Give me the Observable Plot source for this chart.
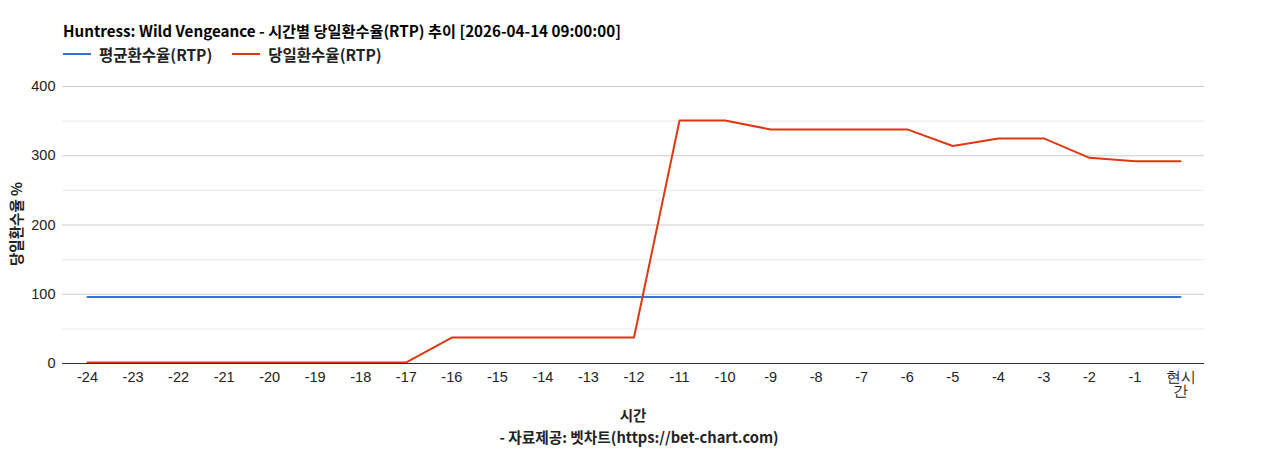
<!DOCTYPE html>
<html>
<head>
<meta charset="utf-8">
<script src="https://cdn.jsdelivr.net/npm/d3@7"></script>
<script src="https://cdn.jsdelivr.net/npm/@observablehq/plot@0.6"></script>
<style>
  html, body { margin: 0; padding: 0; background: #fff; }
  #wrap { position: relative; width: 1268px; height: 450px; font-family: "Noto Sans CJK KR", "Liberation Sans", sans-serif; }
  #title { position: absolute; left: 63px; top: 19px; font-size: 15.2px; font-weight: bold; color: #000; white-space: nowrap; }
  #legend { position: absolute; left: 63px; top: 43px; font-size: 15.5px; font-weight: bold; color: #222; display: flex; align-items: center; white-space: nowrap; }
  .sw { display: inline-block; width: 28px; height: 2px; margin-right: 8px; }
  .item { display: flex; align-items: center; margin-right: 20px; }
  #chart { position: absolute; left: 0; top: 70px; }
  #ylabel { position: absolute; left: 15px; top: 224px; transform: translate(-50%, -50%) rotate(-90deg); font-size: 14.5px; font-weight: bold; white-space: nowrap; color: #222; }
  #xlabel { position: absolute; left: 633px; top: 404px; transform: translateX(-50%); font-size: 14.5px; font-weight: bold; color: #222; white-space: nowrap; }
  #caption { position: absolute; left: 639px; top: 426px; transform: translateX(-50%); font-size: 14.7px; font-weight: bold; color: #222; white-space: nowrap; }
</style>
</head>
<body>
<div id="wrap">
  <div id="title">Huntress: Wild Vengeance - 시간별 당일환수율(RTP) 추이 [2026-04-14 09:00:00]</div>
  <div id="legend"></div>
  <div id="chart"></div>
  <div id="ylabel">당일환수율 %</div>
  <div id="xlabel">시간</div>
  <div id="caption">- 자료제공: 벳차트(https://bet-chart.com)</div>
</div>
<script>
const hours = ["-24","-23","-22","-21","-20","-19","-18","-17","-16","-15","-14","-13","-12","-11","-10","-9","-8","-7","-6","-5","-4","-3","-2","-1","현시간"];
const avgRtp = [96,96,96,96,96,96,96,96,96,96,96,96,96,96,96,96,96,96,96,96,96,96,96,96,96];
const dailyRtp = [1.5,1.5,1.5,1.5,1.5,1.5,1.5,1.5,37.5,37.5,37.5,37.5,37.5,351,351,338,338,338,338,314,325,325,297,292,292];
const seriesNames = ["평균환수율(RTP)", "당일환수율(RTP)"];
const seriesColors = ["#3b6fd8", "#dc3912"];
const yMajor = [0,100,200,300,400];
const yMinor = [50,150,250,350];

const avgData = hours.map((h, i) => ({hour: h, value: avgRtp[i]}));
const dailyData = hours.map((h, i) => ({hour: h, value: dailyRtp[i]}));

const legend = document.getElementById("legend");
seriesNames.forEach((n, i) => {
  const it = document.createElement("span");
  it.className = "item";
  it.innerHTML = `<span class="sw" style="background:${seriesColors[i]}"></span>${n}`;
  legend.appendChild(it);
});

const chart = Plot.plot({
  width: 1268,
  height: 355,
  marginLeft: 62,
  marginRight: 64,
  marginTop: 16,
  marginBottom: 62,
  style: {fontFamily: "'Liberation Sans', Arial, sans-serif", fontSize: "14.5px", color: "#222"},
  x: {type: "point", domain: hours, range: [87, 1180], padding: 0, round: false, label: null, tickSize: 0, tickPadding: 8,
      tickFormat: d => d === "현시간" ? "현시\n간" : d},
  y: {domain: [0, 400], label: null, ticks: yMajor, tickSize: 0, tickPadding: 7},
  marks: [
    Plot.ruleY(yMinor, {stroke: "#ebebeb", strokeWidth: 1}),
    Plot.ruleY(yMajor.filter(d => d > 0), {stroke: "#cccccc", strokeWidth: 1}),
    Plot.line(avgData, {x: "hour", y: "value", stroke: seriesColors[0], strokeWidth: 2}),
    Plot.line(dailyData, {x: "hour", y: "value", stroke: seriesColors[1], strokeWidth: 2}),
    Plot.ruleY([0], {stroke: "#333", strokeWidth: 1})
  ]
});
document.getElementById("chart").appendChild(chart);
</script>
</body>
</html>
